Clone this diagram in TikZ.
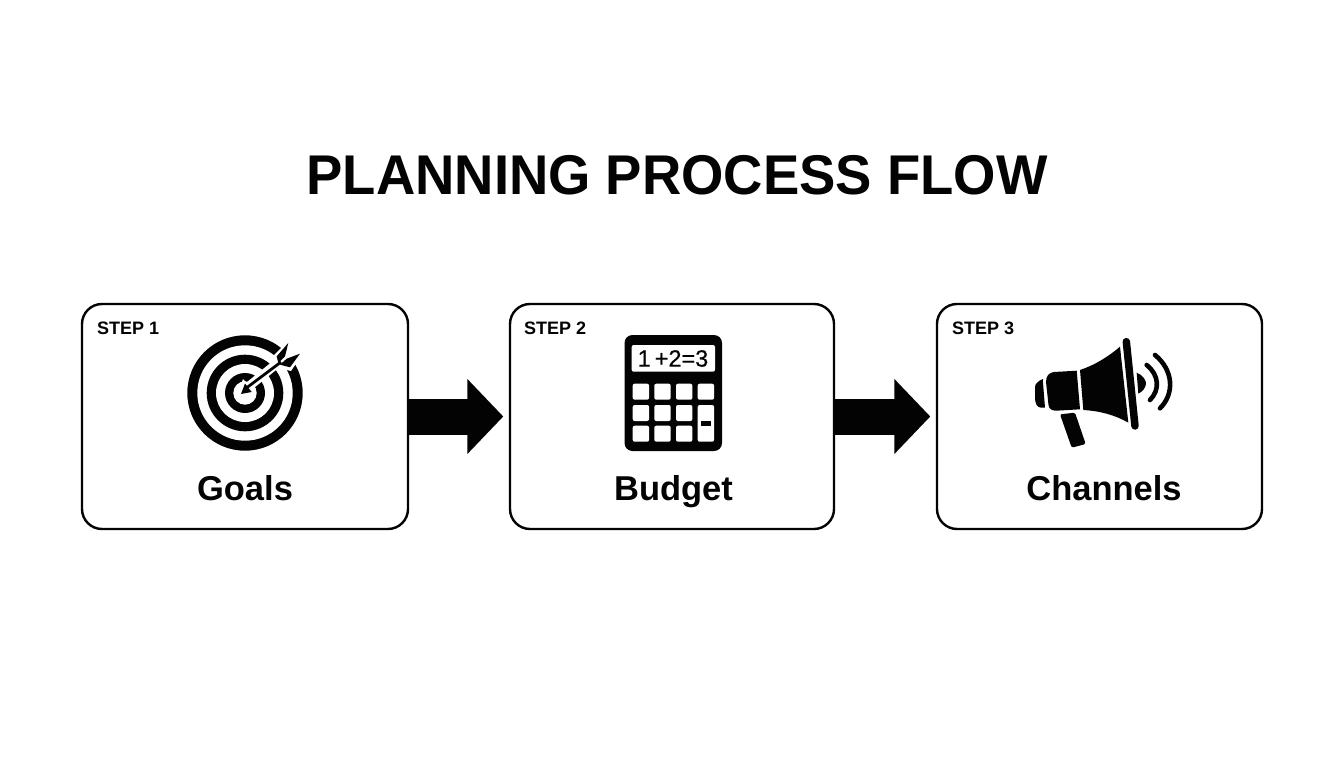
\documentclass[tikz,border=0pt]{standalone}
\usepackage{fontspec}
\setmainfont{Liberation Sans}
\newfontfamily\titlefont[FakeStretch=0.972]{Liberation Sans Bold}
\newfontfamily\calcfont[FakeBold=0.5]{Liberation Sans}
\usetikzlibrary{arrows.meta}
\definecolor{ink}{HTML}{030303}
\tikzset{
  box/.style={draw=ink,line width=2.4pt,rounded corners=20pt,fill=white,inner sep=0pt},
  flow/.style={draw=ink,line width=36pt,-{Triangle[length=36pt,width=73pt,fill=ink]},shorten >=5.5pt,yshift=-0.5pt},
  steplabel/.style={font=\fontsize{18}{18}\selectfont\bfseries,text=ink,inner sep=0pt},
  namelabel/.style={font=\fontsize{34.5}{34.5}\selectfont\bfseries,text=ink,inner sep=0pt},
  zoomthree/.style={shift={(1020,325)},x=0.3333pt,y=-0.3333pt},
  keypad/.style={fill=white,rounded corners=2pt},
}
\begin{document}
\begin{tikzpicture}[x=1pt,y=-1pt]
\useasboundingbox (0,0) rectangle (1344,768);
\fill[white] (0,0) rectangle (1344,768);
\node[font=\fontsize{56}{56}\selectfont\titlefont,text=ink,inner sep=0pt] (title) at (677,175) {PLANNING PROCESS FLOW};
\node[box,minimum width=326pt,minimum height=225pt] (b1) at (245,416.5) {};
\node[box,minimum width=324pt,minimum height=225pt] (b2) at (672,416.5) {};
\node[box,minimum width=325pt,minimum height=225pt] (b3) at (1099.5,416.5) {};
\draw[flow] (b1.east) -- (b2.west);
\draw[flow] (b2.east) -- (b3.west);
\node[steplabel,anchor=base west] (s1) at (97,334) {STEP 1};
\node[steplabel,anchor=base west] (s2) at (524,334) {STEP 2};
\node[steplabel,anchor=base west] (s3) at (952,334) {STEP 3};
\node[namelabel,anchor=base] (n1) at (245,500) {Goals};
\node[namelabel,anchor=base] (n2) at (673.5,500) {Budget};
\node[namelabel,anchor=base] (n3) at (1104,500) {Channels};
% target
\fill[ink] (245,393) circle (57.7);
\fill[white] (245,393) circle (47.7);
\fill[ink] (245,393) circle (38.3);
\fill[white] (245,393) circle (29);
\fill[ink] (245,393) circle (20);
\fill[white] (245,393) circle (11.7);
% arrow in the target
\draw[white,line width=9pt] (248,387) -- (280,361);
\fill[white] (237,396) -- (243,379) -- (256,393) -- cycle;
\fill[white] (273,356) -- (290,339) -- (304,352) -- (291,371) -- (279,368) -- cycle;
\draw[ink,line width=2.8pt] (247,387.5) -- (281,362);
\fill[ink] (241,394) -- (245,383.5) -- (251.7,392) -- cycle;
\fill[ink] (276.7,356.3) -- (288.3,343) -- (285,356.3) -- (278.3,363) -- cycle;
\fill[ink] (280,364.7) -- (286.7,358.7) -- (300,353.7) -- (290,367.3) -- cycle;
% calculator
\fill[ink,rounded corners=8pt] (624.5,335) rectangle (722,451);
\fill[white,rounded corners=2pt] (631.7,345) rectangle (715,371.7);
\node[font=\fontsize{23.5}{23.5}\selectfont\calcfont,text=ink,inner sep=0pt] (calc) at (673,358.5) {1\,+2=3};
\foreach \cx in {632.7,654.3,676}{
  \foreach \cy in {383.7,405,425.7}{
    \fill[keypad] (\cx,\cy) rectangle +(16.4,16);
  }
}
\fill[keypad] (697.7,383.7) rectangle +(16.4,16);
\fill[keypad] (697.7,405) rectangle (714.1,441.7);
\fill[ink] (700.7,421) rectangle (711.3,425.7);
% megaphone
\fill[ink] (1042.7,379) .. controls (1038,381) and (1035,384) .. (1035,387) -- (1035,398) .. controls (1035,403) and (1037,407.7) .. (1041,407.7) -- (1045,407.7) -- cycle;
\fill[ink] (1046,382) .. controls (1046,376) and (1049,372.5) .. (1054,372) -- (1076.7,370.7) -- (1080,409.3) -- (1056,410.7) .. controls (1052,410.7) and (1049,409) .. (1048.5,405) -- cycle;
\fill[ink,rounded corners=1.5pt] (1060,414.3) -- (1075,412.7) -- (1085.7,444) -- (1071.7,447.7) -- cycle;
\begin{scope}[zoomthree]
\fill[ink] (180,135) .. controls (225,120) and (265,95) .. (300,65) -- (325,293) .. controls (285,270) and (240,258) .. (190,255) -- cycle;
\draw[ink,line width=7.5pt,line cap=round] (319,50) -- (345,303);
\fill[ink] (350,143) .. controls (368,150) and (378,165) .. (378,175) .. controls (378,187) and (368,200) .. (355,206) -- cycle;
\draw[ink,line width=4.6pt,line cap=round] (380,120) .. controls (418,150) and (420,195) .. (390,225);
\draw[ink,line width=4.6pt,line cap=round] (405,90) .. controls (460,135) and (465,205) .. (420,250);
\end{scope}
\end{tikzpicture}
\end{document}
